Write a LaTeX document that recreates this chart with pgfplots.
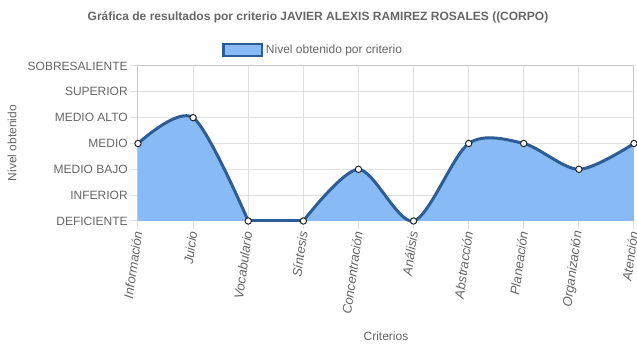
\documentclass[border=0pt]{standalone}
\usepackage{pgfplots}
\pgfplotsset{compat=1.18}
\usepackage{fontspec}
\setmainfont{Liberation Sans}
\definecolor{txt}{RGB}{102,102,102}
\definecolor{fillc}{RGB}{136,187,245}
\definecolor{linec}{RGB}{46,92,148}
\definecolor{gridc}{RGB}{225,225,225}
\definecolor{axc}{RGB}{200,200,200}
\newcommand{\f}{\fontsize{9}{10.8}\selectfont}
\begin{document}
\begin{tikzpicture}[x=0.75pt,y=0.75pt]
\useasboundingbox (0,0) rectangle (637,348);
\node[font=\bfseries\f, text=txt] at (318,331) {Gráfica de resultados por criterio JAVIER ALEXIS RAMIREZ ROSALES ((CORPO)};
\node[rotate=90, font=\f, text=txt] at (12,205) {Nivel obtenido};
\node[font=\f, text=txt] at (386,12) {Criterios};
\begin{axis}[
  at={(103.5pt,95.25pt)}, anchor=south west,
  scale only axis, width=372pt, height=116.25pt,
  xmin=0, xmax=9, ymin=0, ymax=6,
  xtick={0,...,9},
  xticklabels={Información,Juicio,Vocabulario,Síntesis,Concentración,Análisis,Abstracción,Planeación,Organización,Atención},
  ytick={0,...,6},
  yticklabels={DEFICIENTE,INFERIOR,MEDIO BAJO,MEDIO,MEDIO ALTO,SUPERIOR,SOBRESALIENTE},
  grid=major, major grid style={gridc, line width=0.75pt},
  axis line style={axc, line width=0.75pt},
  tick style={gridc, line width=0.75pt}, major tick length=6pt, tick align=outside, tick pos=left,
  ticklabel style={font=\f, text=txt},
  yticklabel style={inner sep=1.5pt},
  xticklabel style={rotate=82, anchor=east, font=\itshape\fontsize{9.75}{11}\selectfont, inner sep=1.5pt},
  clip=false,
  legend style={at={(0.354,1.103)}, anchor=center, draw=none, fill=none, font=\f, text=txt, legend cell align=left},
]
\addplot[draw=none, fill=fillc, smooth, tension=0.5,
  legend image code/.code={\draw[fill=fillc, draw=linec, line width=1.6pt] (0pt,-4.7pt) rectangle (29pt,4.7pt);}]
  coordinates {(0,3) (1,4) (2,0)} \closedcycle;
\addlegendentry{Nivel obtenido por criterio}
\addplot[draw=none, fill=fillc, smooth, tension=0.5, forget plot]
  coordinates {(3,0) (4,2) (5,0) (6,3) (7,3) (8,2) (9,3)} \closedcycle;
\addplot[linec, line width=2.25pt, smooth, tension=0.5, forget plot]
  coordinates {(0,3) (1,4) (2,0)};
\addplot[linec, line width=2.25pt, forget plot]
  coordinates {(2,0) (3,0)};
\addplot[linec, line width=2.25pt, smooth, tension=0.5, forget plot]
  coordinates {(3,0) (4,2) (5,0) (6,3) (7,3) (8,2) (9,3)};
\addplot[only marks, mark=*, mark size=2.4pt, mark options={fill=white, draw=black!85, line width=0.75pt}, forget plot]
  coordinates {(0,3) (1,4) (2,0) (3,0) (4,2) (5,0) (6,3) (7,3) (8,2) (9,3)};
\end{axis}
\end{tikzpicture}
\end{document}
